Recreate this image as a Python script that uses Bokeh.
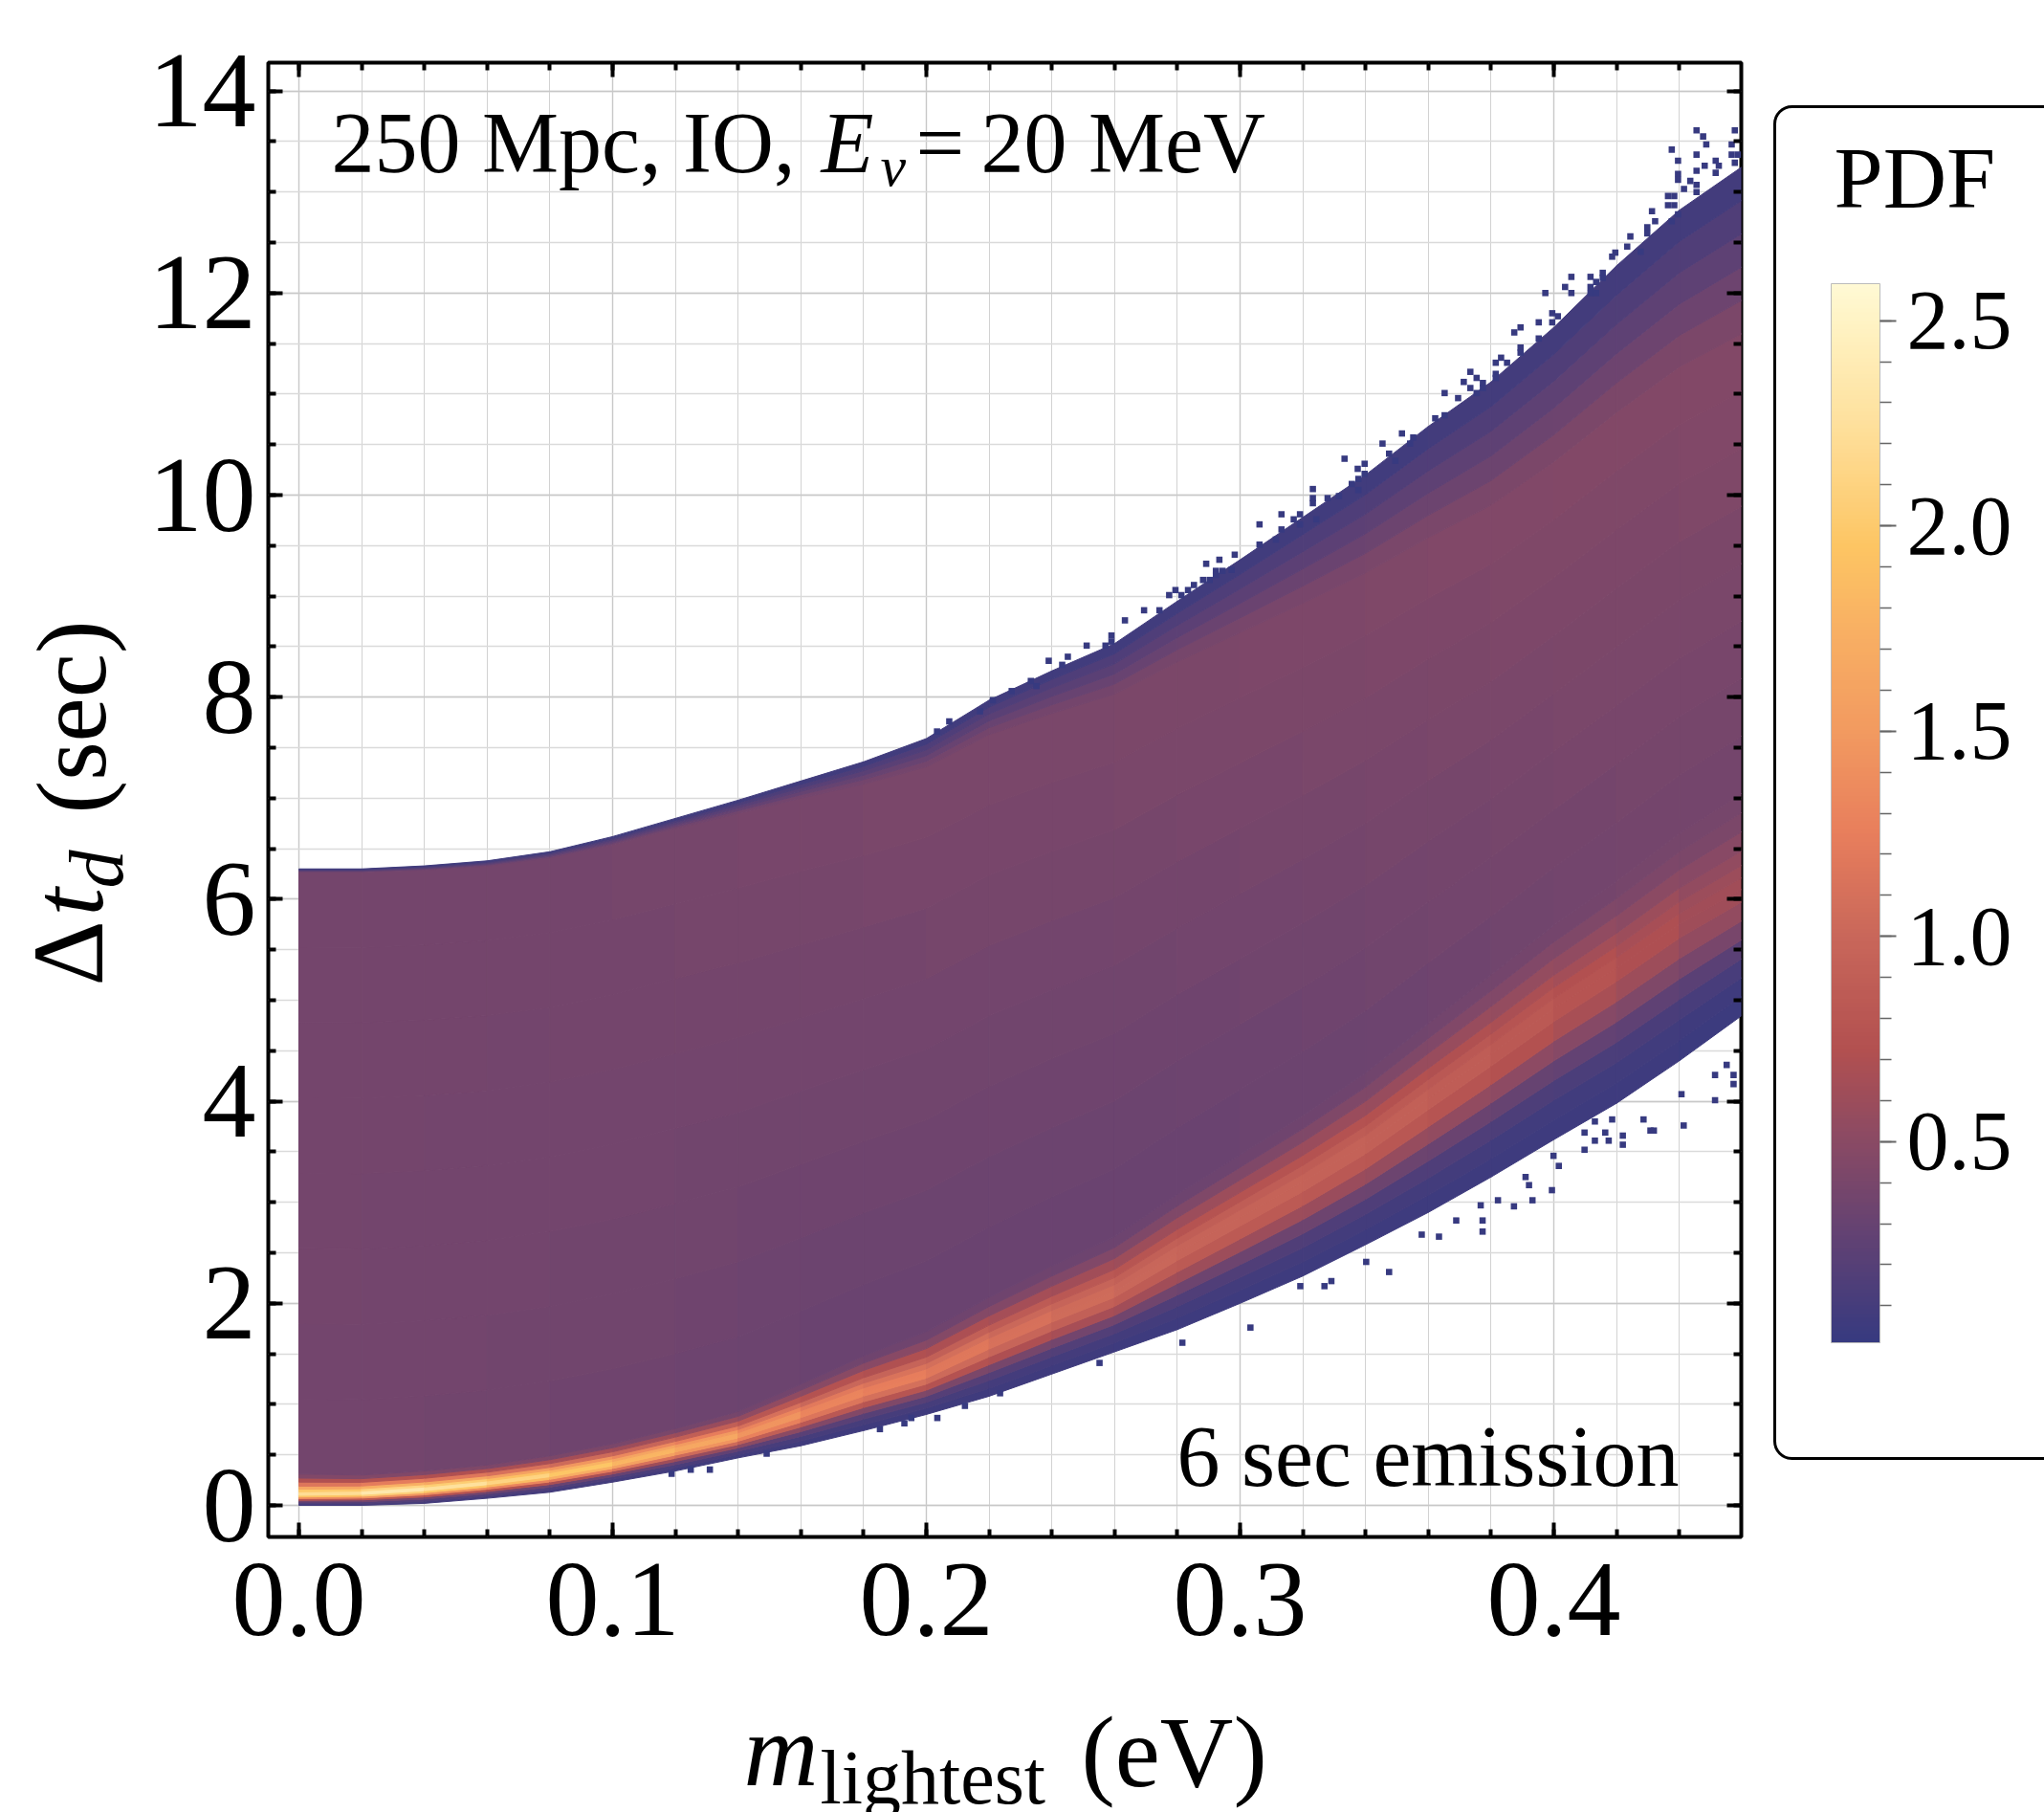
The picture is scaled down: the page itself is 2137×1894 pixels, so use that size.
from bokeh.plotting import figure
from bokeh.layouts import row, column
from bokeh.models import (Range1d, FixedTicker, LinearAxis, Label, ColumnDataSource,
                          LinearColorMapper, ColorBar, BoxAnnotation)
from bokeh.transform import transform
from bokeh.embed import file_html
from bokeh.resources import INLINE
import numpy as np

# ---------- values ----------
m_nodes = [0.0, 0.02, 0.04, 0.06, 0.08, 0.10, 0.12, 0.14, 0.16, 0.18, 0.20, 0.22,
           0.24, 0.26, 0.28, 0.30, 0.32, 0.34, 0.36, 0.38, 0.40, 0.42, 0.44, 0.46]
upper_edge = [6.30, 6.30, 6.33, 6.38, 6.47, 6.62, 6.80, 6.98, 7.17, 7.36, 7.59, 7.97,
              8.26, 8.53, 8.95, 9.36, 9.78, 10.20, 10.68, 11.12, 11.66, 12.27, 12.82, 13.25]
lower_edge = [0.0, 0.0, 0.02, 0.07, 0.13, 0.23, 0.34, 0.47, 0.59, 0.74, 0.90, 1.08,
              1.30, 1.52, 1.74, 2.00, 2.27, 2.58, 2.90, 3.25, 3.62, 3.98, 4.40, 4.85]
ridge_center = [0.11, 0.12, 0.16, 0.22, 0.30, 0.41, 0.55, 0.69, 0.90, 1.12, 1.30, 1.60,
                1.87, 2.12, 2.50, 2.85, 3.20, 3.58, 4.03, 4.47, 4.92, 5.32, 5.75, 6.10]
ridge_peak = [2.15, 2.40, 2.45, 2.20, 2.15, 1.90, 1.80, 1.60, 1.38, 1.32, 1.25, 1.18,
              1.10, 1.05, 1.00, 0.98, 0.98, 0.95, 0.92, 0.88, 0.82, 0.75, 0.68, 0.60]
ridge_width = [0.20, 0.18, 0.18, 0.18, 0.19, 0.20, 0.21, 0.24, 0.30, 0.36, 0.42, 0.46,
               0.50, 0.54, 0.58, 0.62, 0.66, 0.70, 0.74, 0.78, 0.82, 0.86, 0.90, 0.95]
top_fade = [0.03, 0.03, 0.04, 0.05, 0.06, 0.08, 0.10, 0.13, 0.17, 0.22, 0.28, 0.34,
            0.42, 0.50, 0.60, 0.72, 0.85, 0.97, 1.10, 1.22, 1.33, 1.45, 1.55, 1.65]
main_low = [0.37, 0.37, 0.36, 0.36, 0.35, 0.35, 0.34, 0.33, 0.32, 0.31, 0.31, 0.31,
            0.31, 0.31, 0.31, 0.32, 0.32, 0.33, 0.34, 0.35, 0.36, 0.37, 0.37, 0.38]
main_high = [0.38, 0.38, 0.38, 0.38, 0.38, 0.39, 0.39, 0.40, 0.40, 0.41, 0.42, 0.42,
             0.42, 0.42, 0.43, 0.43, 0.44, 0.44, 0.45, 0.45, 0.46, 0.46, 0.46, 0.46]

fringe_m_upper = [.4455, .4476, .4486, .4577, .4567, .4376, .4455, .4567, .4587, .4396, .4516,
                  .4481, .4526, .4577, .4455, .4516, .4396, .4396, .4435, .4415, .4455, .4455,
                  .4364, .4384, .4364, .4384, .4313, .4323, .4396, .4376, .4298, .4298, .4244,
                  .4234, .4277, .4196, .4186, .4156, .4156, .4117, .4056, .4135, .4117, .4036,
                  .4056, .3973, .4117, .4135, .3995, .4013, .3995, .3952, .3894, .3874, .3952,
                  .3894, .3894, .3832, .3815, .3851, .3734, .3754, .3815, .3815, .3713, .3774,
                  .3774, .3734, .3754, .3652, .3695, .3652, .3622,
                  .3516, .3552, .3454, .3542, .3475, .3333, .3397, .3375, .3495, .3377, .3397,
                  .3356, .3377, .3232, .3232, .3232, .3279, .3315, .3132, .3191, .3171, .3191,
                  .3243, .3062, .3132, .3114, .3062, .2934, .2983, .2892, .2923, .2944, .2923,
                  .2973, .2882, .2903, .2853, .2794, .2834, .2774, .2813, .2694, .2743, .2633,
                  .2511, .2590, .2590, .2571, .2451, .2390, .2433, .2333, .2351, .2272, .2212,
                  .2171, .2073, .2034]
fringe_d_upper = [13.61, 13.55, 13.47, 13.61, 13.47, 13.42, 13.37, 13.37, 13.37, 13.31, 13.31,
                  13.26, 13.26, 13.29, 13.21, 13.19, 13.18, 13.12, 13.11, 13.03, 13.07, 13.00,
                  12.96, 12.96, 12.87, 12.87, 12.81, 12.71, 12.78, 12.71, 12.65, 12.59, 12.56,
                  12.46, 12.41, 12.40, 12.36, 12.20, 12.15, 12.16, 12.16, 12.11, 12.06, 12.06,
                  12.00, 12.00, 12.00, 12.00, 11.80, 11.77, 11.71, 11.71, 11.66, 11.61, 11.55,
                  11.46, 11.41, 11.36, 11.31, 11.31, 11.22, 11.16, 11.20, 11.16, 11.12, 11.11,
                  11.06, 11.06, 11.01, 11.01, 10.96, 10.79, 10.76,
                  10.61, 10.57, 10.51, 10.51, 10.41, 10.36, 10.31, 10.26, 10.34, 10.16, 10.21,
                  10.11, 10.05, 10.06, 9.97, 9.92, 9.97, 9.99, 9.81, 9.81, 9.76, 9.71,
                  9.76, 9.71, 9.66, 9.56, 9.51, 9.36, 9.41, 9.32, 9.25, 9.25, 9.21,
                  9.26, 9.16, 9.16, 9.11, 9.06, 9.06, 9.01, 9.01, 8.86, 8.86, 8.76,
                  8.51, 8.61, 8.55, 8.51, 8.40, 8.36, 8.32, 8.16, 8.11, 8.06, 7.97,
                  7.86, 7.76, 7.66]
fringe_m_lower = [.3033, .2816, .3475, .3402, .3291, .3269, .3192, .3773, .3773, .3634, .3579,
                  .3689, .3873, .3822, .3767, .3932, .3994, .3921, .3910, .4016, .3999, .4098,
                  .4220, .4220, .4308, .4286, .4414, .4319, .4514, .4573, .4573, .4514, .4551,
                  .4407, .4175, .4131, .4098, .4164, .4131, .4186,
                  .1310, .1188, .1249, .1491, .1852, .1930, .1952, .2035, .2123, .2235, .2552]
fringe_d_lower = [1.76, 1.61, 2.31, 2.41, 2.22, 2.17, 2.17, 2.82, 2.71, 2.66, 2.68,
                  2.82, 2.96, 3.02, 2.97, 3.02, 3.12, 3.17, 3.25, 3.36, 3.46, 3.52,
                  3.57, 3.66, 3.71, 3.82, 3.76, 3.71, 4.01, 4.17, 4.26, 4.26, 4.36,
                  4.07, 3.61, 3.61, 3.69, 3.69, 3.80, 3.82,
                  .354, .313, .354, .512, .755, .812, .865, .865, .985, 1.11, 1.41]

x_major = [0.0, 0.1, 0.2, 0.3, 0.4]
y_major = [0, 2, 4, 6, 8, 10, 12, 14]
pdf_major = [0.5, 1.0, 1.5, 2.0, 2.5]
pdf_low, pdf_high = 0.01, 2.59

color_pdf = [0.01, 0.25, 0.50, 0.72, 1.00, 1.25, 1.50, 1.75, 1.95, 2.25, 2.50, 2.59]
color_hex = ["#373a80", "#5f4174", "#8a4a64", "#b25050", "#c9675a", "#e87e5c",
             "#f29a60", "#f8b063", "#fdc563", "#fee09c", "#fff3c4", "#fff9d4"]

FONT = "Liberation Serif"
def sx(px): return (px - 312) / 3280
def sy(py): return (1573 - py) / 105.6

rgb = np.array([[int(h[i:i + 2], 16) for i in (1, 3, 5)] for h in color_hex], float)
grid_v = np.linspace(pdf_low, pdf_high, 256)
palette = ["#%02x%02x%02x" % tuple(int(round(np.interp(v, color_pdf, rgb[:, c]))) for c in range(3))
           for v in grid_v]
mapper = LinearColorMapper(palette=palette, low=pdf_low, high=pdf_high)

# main panel occupies x 140..1840, y 0..1780 of the page
p = figure(width=1700, height=1780, output_backend="svg", toolbar_location=None,
           x_range=Range1d(sx(280), sx(1820)), y_range=Range1d(sy(1606), sy(65)),
           min_border_left=140, min_border_right=20, min_border_top=65, min_border_bottom=174,
           background_fill_color="white", border_fill_color="white",
           outline_line_color="black", outline_line_width=4)

x_minor = [round(0.02 * i, 2) for i in range(0, 24)]
y_minor = [0.5 * i for i in range(0, 29)]
xt = FixedTicker(ticks=x_major, minor_ticks=x_minor)
yt = FixedTicker(ticks=y_major, minor_ticks=y_minor)


def style(ax, labels=True):
    ax.axis_line_color = None
    ax.major_tick_in = 15
    ax.major_tick_out = 0
    ax.minor_tick_in = 8
    ax.minor_tick_out = 0
    ax.major_tick_line_color = "black"
    ax.minor_tick_line_color = "black"
    ax.major_tick_line_width = 4
    ax.minor_tick_line_width = 4
    ax.major_label_text_font = FONT
    ax.major_label_text_color = "black"
    if labels:
        ax.major_label_text_font_size = "112px"
    else:
        ax.major_label_text_font_size = "0px"
        ax.major_label_standoff = 0


ax_b = p.xaxis[0]; ax_b.ticker = xt
ax_l = p.yaxis[0]; ax_l.ticker = yt
style(ax_b); style(ax_l)
ax_b.major_label_overrides = {0.0: "0.0", 0.1: "0.1", 0.2: "0.2", 0.3: "0.3", 0.4: "0.4"}
ax_b.major_label_standoff = 28
ax_l.major_label_standoff = 13
ax_t = LinearAxis(ticker=xt, major_label_overrides={t: "" for t in x_major})
ax_r = LinearAxis(ticker=yt, major_label_overrides={t: "" for t in y_major})
style(ax_t, False); style(ax_r, False)
p.add_layout(ax_t, "above"); p.add_layout(ax_r, "right")

p.xgrid.grid_line_color = "#c8c8c8"; p.xgrid.grid_line_width = 1.4
p.xgrid.minor_grid_line_color = "#d2d2d2"; p.xgrid.minor_grid_line_width = 1
p.ygrid.grid_line_color = "#c8c8c8"; p.ygrid.grid_line_width = 1.6
p.ygrid.minor_grid_line_color = "#dadada"; p.ygrid.minor_grid_line_width = 1.4

lf = [0, .15, .30, .45, .60, .75, .90, 1.0]
lg = [.02, .04, .08, .20, .45, .75, .95, 1.0]
uf = [0, .12, .25, .40, .60, .80, 1.0]
ug = [1.0, .92, .78, .55, .28, .08, 0.0]
n_main = 8
tf = [0, .2, .4, .6, .8, 1.0]


def column_bands(i):
    lo, r, up = lower_edge[i], ridge_center[i], upper_edge[i]
    pk, w, fade = ridge_peak[i], ridge_width[i], top_fade[i]
    ml, mh = main_low[i], main_high[i]
    ys, vs = [], []
    for f, g in zip(lf, lg):
        ys.append(lo + (r - lo) * f); vs.append(0.03 + (pk - 0.03) * g)
    for f, g in zip(uf[1:], ug[1:]):
        ys.append(r + w * f); vs.append(ml + (pk - ml) * g)
    a, b = r + w, up - fade
    for k in range(1, n_main + 1):
        f = k / n_main
        ys.append(a + (b - a) * f); vs.append(ml + (mh - ml) * f)
    for f in tf[1:]:
        ys.append(b + (up - b) * f); vs.append(mh + (0.04 - mh) * f)
    return ys, vs


cols = [column_bands(i) for i in range(len(m_nodes))]
xs, ys, vals = [], [], []
for i in range(len(m_nodes) - 1):
    y0, v0 = cols[i]; y1, v1 = cols[i + 1]
    for k in range(len(y0) - 1):
        xs.append([m_nodes[i], m_nodes[i], m_nodes[i + 1], m_nodes[i + 1]])
        ys.append([y0[k], y0[k + 1], y1[k + 1], y1[k]])
        vals.append((v0[k] + v0[k + 1] + v1[k] + v1[k + 1]) / 4)
src = ColumnDataSource(dict(xs=xs, ys=ys, v=vals))
p.patches("xs", "ys", source=src, fill_color=transform("v", mapper),
          line_color=transform("v", mapper), line_width=1)

fringe_m = fringe_m_upper + fringe_m_lower
fringe_d = fringe_d_upper + fringe_d_lower
p.rect(fringe_m, fringe_d, width=0.002, height=0.0625, color=color_hex[0], line_width=0)


def strip(w, h, x0, x1, y0, y1):
    f = figure(width=w, height=h, output_backend="svg", toolbar_location=None,
               x_range=Range1d(x0, x1), y_range=Range1d(y1, y0), x_axis_type=None, y_axis_type=None,
               min_border=0, outline_line_color=None, background_fill_color="white",
               border_fill_color="white")
    f.grid.visible = False
    return f


left = strip(140, 1894, 0, 140, 0, 1894)
# the column lines this strip's frame up with the main frame (x 280..1820)
below = strip(1700, 114, 280, 1820, 1780, 1894)
panel = strip(297, 1894, 1840, 2137, 0, 1894)

ASC = 0.35  # where the SVG text places its alphabetic baseline


def put(fig, text, px, py, size, style="normal", vertical=False):
    if vertical:
        x, y = px - ASC * size, py
    else:
        x, y = px, py - ASC * size
    fig.add_layout(Label(x=x, y=y, text=text, text_font=FONT, text_font_size="%dpx" % size,
                         text_font_style=style, text_color="black", angle=np.pi / 2 if vertical else 0.0,
                         text_baseline="alphabetic", text_align="left"))


def put_main(text, px, py, size, style="normal"):
    p.add_layout(Label(x=sx(px), y=sy(py - ASC * size), text=text, text_font=FONT,
                       text_font_size="%dpx" % size, text_font_style=style, text_color="black",
                       text_baseline="alphabetic", text_align="left"))


put_main("250 Mpc, IO,", 346, 180, 90)
put_main("E", 858, 180, 90, "italic")
put_main("\u03bd", 920, 194, 60, "italic")
put_main("=", 957, 180, 90)
put_main("20 MeV", 1025, 180, 90)
put_main("6 sec emission", 1230, 1553, 90)

put(below, "m", 777, 1867, 108, "italic")
put(below, "lightest", 857, 1885, 80)
put(below, "(eV)", 1130, 1868, 106)

put(left, "\u0394", 108, 1030, 106, vertical=True)
put(left, "t", 108, 957, 106, "italic", vertical=True)
put(left, "d", 128, 928, 80, "italic", vertical=True)
put(left, "(sec)", 110, 850, 104, vertical=True)

panel.add_layout(BoxAnnotation(left=1855, right=2300, top=111, bottom=1524,
                               fill_color=None, line_color="black", line_alpha=1.0,
                               line_width=3, border_radius=18))
cb = ColorBar(color_mapper=mapper, width=51, height=1107, location=(74, 491), padding=0, margin=0,
              ticker=FixedTicker(ticks=pdf_major, minor_ticks=[round(0.1 * i, 1) for i in range(1, 26)]),
              major_tick_in=0, major_tick_out=17, minor_tick_in=0, minor_tick_out=12,
              major_tick_line_color="#666666", minor_tick_line_color="#666666",
              major_tick_line_width=2, minor_tick_line_width=1.5,
              bar_line_color="#bbbbbb", bar_line_width=1,
              major_label_text_font=FONT, major_label_text_font_size="88px",
              major_label_text_color="black", label_standoff=11,
              background_fill_color=None, border_line_color=None,
              major_label_overrides={t: "%.1f" % t for t in pdf_major})
panel.add_layout(cb)
put(panel, "PDF", 1917, 218, 92)

page = row(left, column(p, below, spacing=0), panel, spacing=0)
open("out.html", "w").write(file_html(page, INLINE))
